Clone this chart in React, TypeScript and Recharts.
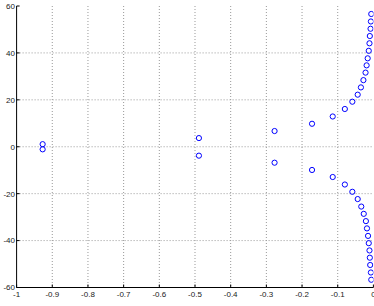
import { ScatterChart, Scatter, XAxis, YAxis, CartesianGrid } from 'recharts';

// pole locations (upper / lower halves)
const upperX = [-0.927, -0.489, -0.277, -0.172, -0.114, -0.08, -0.059, -0.044, -0.035, -0.028, -0.022, -0.019, -0.016, -0.013, -0.011, -0.01, -0.008, -0.007, -0.006];
const upperY = [1.1, 3.7, 6.7, 9.8, 12.9, 16.1, 19.2, 22.2, 25.3, 28.4, 31.6, 34.7, 37.7, 40.9, 44.1, 47.2, 50.3, 53.4, 56.6];
const lowerX = [-0.927, -0.489, -0.277, -0.172, -0.114, -0.08, -0.059, -0.044, -0.034, -0.027, -0.021, -0.018, -0.015, -0.013, -0.011, -0.01, -0.009, -0.007, -0.006];
const lowerY = [-1.1, -3.8, -6.8, -9.9, -12.9, -16.1, -19.2, -22.3, -25.5, -28.6, -31.7, -34.8, -38.0, -41.1, -44.2, -47.3, -50.4, -53.6, -56.7];

const xTicks = [-1, -0.9, -0.8, -0.7, -0.6, -0.5, -0.4, -0.3, -0.2, -0.1, 0];
const yTicks = [-60, -40, -20, 0, 20, 40, 60];

const points = [
    ...upperX.map((x, i) => ({ x, y: upperY[i] })),
    ...lowerX.map((x, i) => ({ x, y: lowerY[i] })),
];

const tickStyle = { fontSize: 8, fill: '#222', fontFamily: '"Liberation Sans", Arial, sans-serif' };

const fmt = (v: number) => (v === 0 ? '0' : String(v).replace('−', '-'));

const Ring = (props: any) => (
    <circle cx={props.cx} cy={props.cy} r={2.6} fill="none" stroke="#0000ff" strokeWidth={1} />
);

const App = () => {
    return (
        <div style={{ position: 'absolute', left: 0, top: 0, width: 374, height: 306, background: '#fff' }}>
            <ScatterChart width={374} height={306} margin={{ top: 6, right: 0.6, left: 0.6, bottom: 0.5 }}>
                <CartesianGrid stroke="#999" strokeDasharray="1 2" horizontalValues={[-40, -20, 0, 20, 40]} verticalValues={[-0.9, -0.8, -0.7, -0.6, -0.5, -0.4, -0.3, -0.2, -0.1]} />
                <XAxis
                    type="number"
                    dataKey="x"
                    domain={[-1, 0]}
                    ticks={xTicks}
                    tickFormatter={fmt}
                    height={18}
                    stroke="#000"
                    tickSize={-3}
                    tickMargin={7}
                    tick={tickStyle}
                    interval={0}
                    allowDataOverflow
                />
                <YAxis
                    type="number"
                    dataKey="y"
                    domain={[-60, 60]}
                    ticks={yTicks}
                    tickFormatter={fmt}
                    width={16}
                    stroke="#000"
                    tickSize={-3}
                    tickMargin={4.6}
                    tick={tickStyle}
                    interval={0}
                    allowDataOverflow
                />
                <XAxis
                    xAxisId="top"
                    orientation="top"
                    type="number"
                    domain={[-1, 0]}
                    ticks={xTicks}
                    tick={false}
                    height={0}
                    stroke="#000"
                    tickSize={-3}
                />
                <YAxis
                    yAxisId="right"
                    orientation="right"
                    type="number"
                    domain={[-60, 60]}
                    ticks={yTicks}
                    tick={false}
                    width={0}
                    stroke="#000"
                    tickSize={-3}
                />
                <Scatter data={points} shape={Ring} isAnimationActive={false} />
            </ScatterChart>
        </div>
    );
};

export default App;
